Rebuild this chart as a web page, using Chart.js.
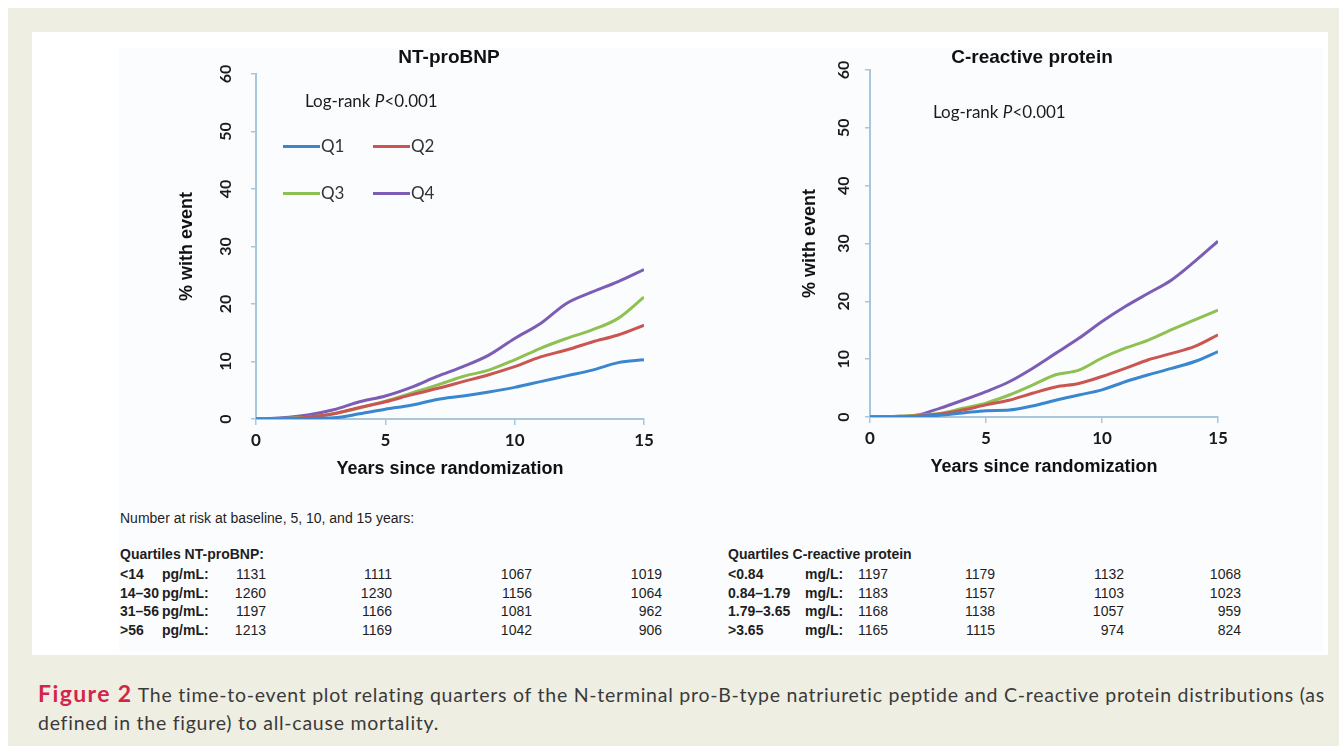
<!DOCTYPE html>
<html>
<head>
<meta charset="utf-8">
<script src="https://cdn.jsdelivr.net/npm/chart.js@4.4.0/dist/chart.umd.min.js"></script>
<style>
  body { margin: 0; width: 1339px; height: 746px; position: relative; overflow: hidden; background: #fff; font-family: "Liberation Sans", Arial, sans-serif; }
  #frame { position: absolute; left: 8px; top: 8px; right: 0; bottom: 0; background: #efeee3; }
  #panel { position: absolute; left: 32px; top: 32px; width: 1296px; height: 623px; background: #fff; }
  #plot { position: absolute; left: 119px; top: 48px; width: 1204px; height: 604px; background: #fbfcfe; }
  canvas { position: absolute; }
  .note { position: absolute; font-family: Lato, sans-serif; font-size: 17px; color: #1c1c1c; white-space: nowrap; line-height: 20px; }
  .legline { position: absolute; height: 3px; }
  .tbl { position: absolute; font-size: 14px; color: #1e1e1e; white-space: nowrap; line-height: 19px; }
  .b { font-weight: bold; }
  .num { text-align: right; }
  #caption { position: absolute; left: 38px; top: 679px; font-family: Lato, sans-serif; font-size: 19.5px; letter-spacing: 0.75px; line-height: 28px; color: #3a3a3a; white-space: nowrap; }
  #caption .fig { color: #d4244c; font-weight: bold; font-size: 23px; letter-spacing: 1.4px; }
</style>
</head>
<body>
<div id="frame"></div>
<div id="panel"></div>
<div id="plot"></div>
<canvas id="ntChart" width="598" height="450" style="left:150px;top:40px;"></canvas>
<canvas id="crpChart" width="540" height="450" style="left:762px;top:40px;"></canvas>
<div id="overlay"></div>
<div id="caption"><span class="fig">Figure 2</span> The time-to-event plot relating quarters of the N-terminal pro-B-type natriuretic peptide and C-reactive protein distributions (as<br>defined in the figure) to all-cause mortality.</div>
<script>
// years since randomization
const years = [0, 1, 2, 3, 4, 5, 6, 7, 8, 9, 10, 11, 12, 13, 14, 15];
const quartileLabels = ['Q1', 'Q2', 'Q3', 'Q4'];

// % with event, NT-proBNP quartiles
const ntQ1 = [0, 0, 0.1, 0.2, 0.9, 1.7, 2.4, 3.4, 4.0, 4.7, 5.5, 6.5, 7.5, 8.5, 9.8, 10.3];
const ntQ2 = [0, 0, 0.3, 0.9, 2.0, 3.0, 4.2, 5.3, 6.5, 7.7, 9.1, 10.8, 12.0, 13.4, 14.6, 16.3];
const ntQ3 = [0, 0.1, 0.3, 0.9, 1.9, 3.1, 4.5, 5.9, 7.4, 8.5, 10.3, 12.3, 14.0, 15.5, 17.5, 21.2];
const ntQ4 = [0, 0.2, 0.7, 1.6, 3.0, 4.0, 5.5, 7.4, 9.1, 11.1, 14.0, 16.6, 20.1, 22.1, 23.9, 26.0];

// % with event, C-reactive protein quartiles
const crpQ1 = [0, 0, 0.1, 0.3, 0.7, 1.1, 1.2, 1.9, 2.9, 3.8, 4.7, 6.1, 7.3, 8.4, 9.6, 11.3];
const crpQ2 = [0, 0, 0.2, 0.5, 1.2, 2.1, 2.9, 4.1, 5.2, 5.8, 7.0, 8.4, 9.9, 11.0, 12.2, 14.2];
const crpQ3 = [0, 0.1, 0.3, 0.6, 1.5, 2.4, 3.8, 5.5, 7.3, 8.1, 10.2, 11.9, 13.3, 15.1, 16.8, 18.5];
const crpQ4 = [0, 0.1, 0.3, 1.5, 2.9, 4.4, 6.1, 8.4, 11.0, 13.6, 16.5, 19.1, 21.4, 23.7, 26.9, 30.4];

const yTicksMax = 60;
const xTicksMax = 15;

// number at risk table
const riskIntro = 'Number at risk at baseline, 5, 10, and 15 years:';
const ntRanges = ['<14', '14\u201330', '31\u201356', '>56'];
const ntAtRisk = [
  [1131, 1111, 1067, 1019],
  [1260, 1230, 1156, 1064],
  [1197, 1166, 1081, 962],
  [1213, 1169, 1042, 906]
];
const crpRanges = ['<0.84', '0.84\u20131.79', '1.79\u20133.65', '>3.65'];
const crpAtRisk = [
  [1197, 1179, 1132, 1068],
  [1183, 1157, 1103, 1023],
  [1168, 1138, 1057, 959],
  [1165, 1115, 974, 824]
];

const lineColors = ['#3a86cf', '#cb5550', '#8fc152', '#7c5db5'];
const axisColor = '#a9c6da';

Chart.defaults.font.family = 'Lato, sans-serif';

function makeChart(id, title, series, opt) {
  const datasets = series.map((vals, i) => ({
    label: quartileLabels[i],
    data: years.map((yr, j) => ({ x: yr, y: vals[j] })),
    borderColor: lineColors[i],
    borderWidth: 3,
    pointRadius: 0,
    cubicInterpolationMode: 'monotone',
    fill: false
  }));
  return new Chart(document.getElementById(id), {
    type: 'line',
    data: { datasets: datasets },
    options: {
      responsive: false,
      animation: false,
      layout: { padding: 0 },
      plugins: {
        legend: { display: false },
        tooltip: { enabled: false },
        title: {
          display: true,
          text: title,
          color: '#111',
          font: { family: '"Liberation Sans", Arial', size: 19, weight: 'bold' },
          padding: { top: opt.titleTop, bottom: opt.titleBottom }
        }
      },
      scales: {
        x: {
          type: 'linear',
          min: 0,
          max: xTicksMax,
          ticks: { stepSize: 5, color: '#1a1a1a', font: { size: 17, weight: 'bold' }, padding: 5 },
          grid: { drawOnChartArea: false, color: axisColor, tickLength: 6, lineWidth: 1.5 },
          border: { color: axisColor, width: 2 },
          title: {
            display: true,
            text: 'Years since randomization',
            color: '#111',
            font: { family: '"Liberation Sans", Arial', size: 18, weight: 'bold' },
            padding: { top: 0, bottom: opt.xTitlePad }
          },
          afterFit: s => { s.height = opt.xHeight; }
        },
        y: {
          min: 0,
          max: yTicksMax,
          ticks: { stepSize: 10, color: '#1a1a1a', font: { size: 16, weight: 'bold' }, minRotation: 90, maxRotation: 90, crossAlign: 'center', padding: opt.yTickPad },
          grid: { drawOnChartArea: false, color: axisColor, tickLength: 5, lineWidth: 1.5 },
          border: { color: axisColor, width: 2 },
          title: {
            display: true,
            text: '% with event',
            color: '#111',
            font: { family: '"Liberation Sans", Arial', size: 18, weight: 'bold' },
            padding: { top: opt.yTitlePad, bottom: 0 }
          },
          afterFit: s => { s.width = opt.yWidth; }
        },
        pad: {
          position: 'right',
          display: true,
          ticks: { display: false },
          grid: { display: false },
          border: { display: false },
          afterFit: s => { s.width = opt.padRight; }
        }
      }
    }
  });
}

makeChart('ntChart', 'NT-proBNP', [ntQ1, ntQ2, ntQ3, ntQ4], {
  titleTop: 6.6, titleBottom: 4.6, xHeight: 71, xTitlePad: 10, yWidth: 106, yTitlePad: 26, yTickPad: 16, padRight: 104
});
makeChart('crpChart', 'C-reactive protein', [crpQ1, crpQ2, crpQ3, crpQ4], {
  titleTop: 6.6, titleBottom: 0.6, xHeight: 73, xTitlePad: 12, yWidth: 108, yTitlePad: 37, yTickPad: 12, padRight: 84
});

// annotations, legend and risk table
const overlay = document.getElementById('overlay');
function addEl(cls, html, style) {
  const d = document.createElement('div');
  d.className = cls;
  d.innerHTML = html;
  Object.assign(d.style, style);
  overlay.appendChild(d);
  return d;
}
const esc = s => s.replace(/</g, '&lt;').replace(/>/g, '&gt;');

addEl('note', 'Log-rank <i>P</i>&lt;0.001', { left: '305px', top: '91px' });
addEl('note', 'Log-rank <i>P</i>&lt;0.001', { left: '933px', top: '102px' });

const legendPos = [[283, 146], [373, 146], [283, 193], [373, 193]];
quartileLabels.forEach((q, i) => {
  const [lx, ly] = legendPos[i];
  addEl('legline', '', { left: lx + 'px', top: (ly - 1.5) + 'px', width: '37px', background: lineColors[i] });
  addEl('note', q, { left: (lx + 38) + 'px', top: (ly - 10) + 'px', color: '#333' });
});

addEl('tbl', esc(riskIntro), { left: '120px', top: '509px' });

function riskTable(x0, unitX, header, ranges, unit, rows, rights) {
  addEl('tbl b', esc(header), { left: x0 + 'px', top: '545px' });
  const rowY = [574, 593, 611, 630];
  ranges.forEach((r, i) => {
    const top = (rowY[i] - 9.5) + 'px';
    addEl('tbl b', esc(r), { left: x0 + 'px', top: top });
    addEl('tbl b', unit, { left: unitX + 'px', top: top });
    rows[i].forEach((v, j) => {
      addEl('tbl num', String(v), { left: (rights[j] - 60) + 'px', width: '60px', top: top });
    });
  });
}
riskTable(120, 162, 'Quartiles NT-proBNP:', ntRanges, 'pg/mL:', ntAtRisk, [266, 392, 532, 662]);
riskTable(728, 805, 'Quartiles C-reactive protein', crpRanges, 'mg/L:', crpAtRisk, [888, 995, 1124, 1241]);
</script>
</body>
</html>
